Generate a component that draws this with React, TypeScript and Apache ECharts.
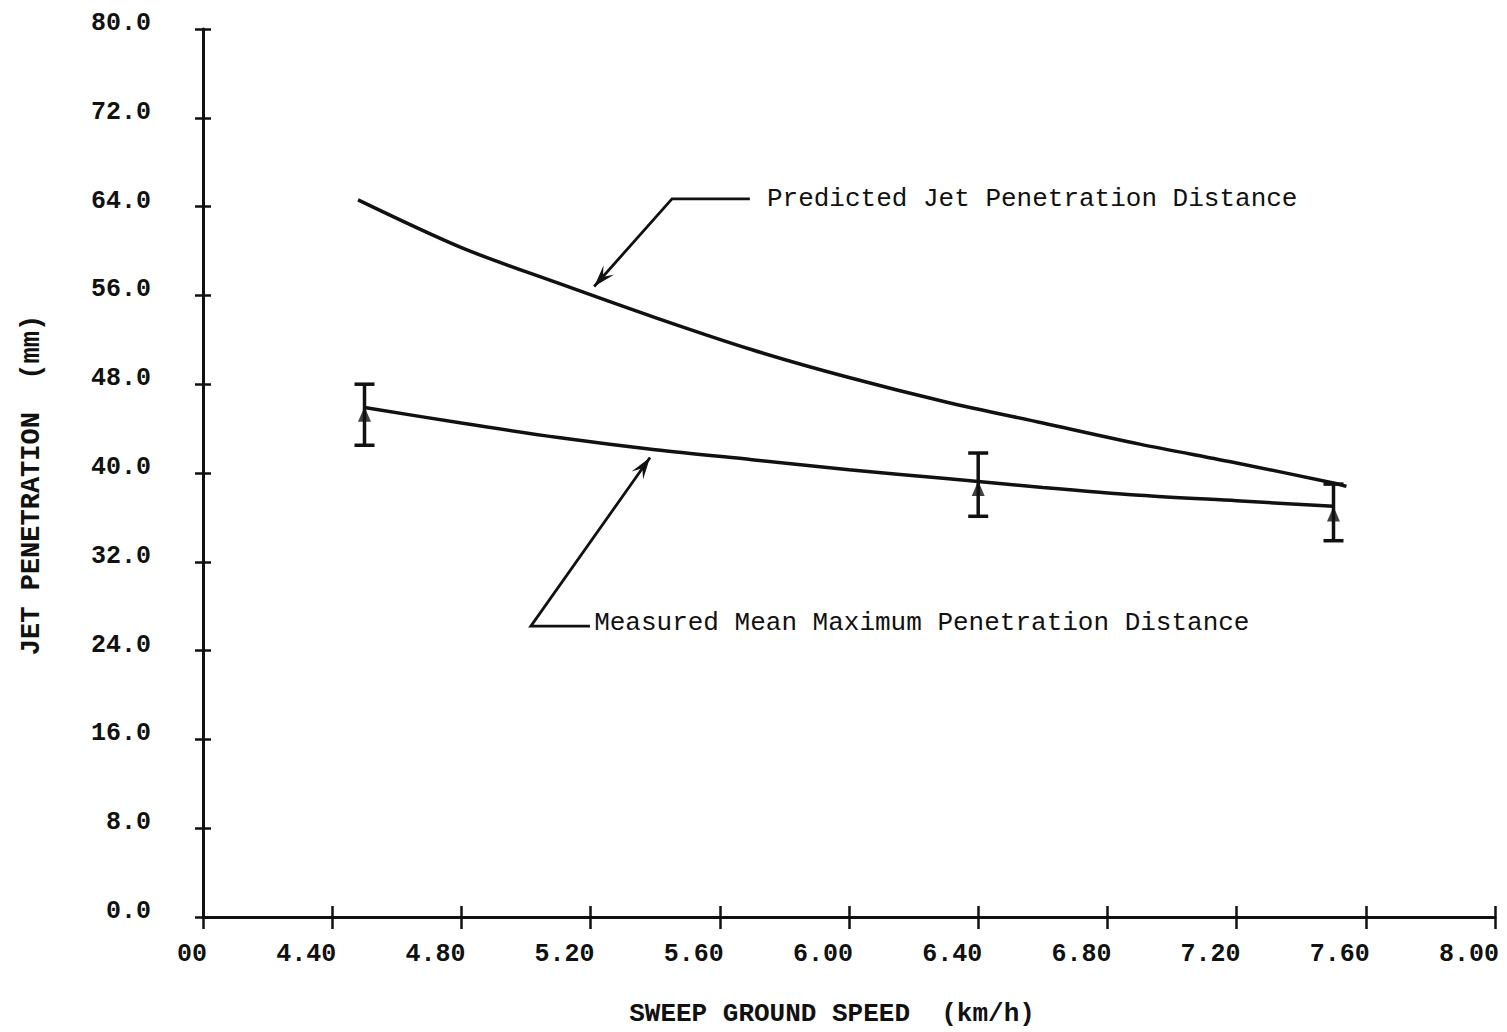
import React, { useEffect, useRef } from "react";
import * as echarts from "echarts";

// ---- data ----
const xTickLabels = ["00", "4.40", "4.80", "5.20", "5.60", "6.00", "6.40", "6.80", "7.20", "7.60", "8.00"];
const yTickLabels = ["0.0", "8.0", "16.0", "24.0", "32.0", "40.0", "48.0", "56.0", "64.0", "72.0", "80.0"];

const speeds = [4.48, 4.8, 5.1, 5.4, 5.7, 6.0, 6.3, 6.6, 6.9, 7.2, 7.5, 7.54];
const predicted = [64.6, 60.3, 57.1, 54.0, 51.1, 48.6, 46.4, 44.5, 42.6, 40.9, 39.1, 38.8];
const fitSpeeds = [4.5, 4.8, 5.1, 5.4, 5.7, 6.0, 6.3, 6.6, 6.9, 7.2, 7.5];
const measuredFit = [45.9, 44.5, 43.2, 42.1, 41.2, 40.3, 39.5, 38.7, 38.0, 37.5, 37.0];

const meanSpeeds = [4.5, 6.4, 7.5];
const meanPen = [45.3, 38.6, 36.3];
const errLow = [42.5, 36.1, 33.9];
const errHigh = [48.0, 41.8, 39.0];

const predictedLabel = "Predicted Jet Penetration Distance";
const measuredLabel = "Measured Mean Maximum Penetration Distance";
// annotation anchors in data coordinates [speed, penetration]
const predictedArrow = [[5.693, 64.7], [5.452, 64.7], [5.211, 56.8]];
const predictedTextAt = [5.746, 64.7];
const measuredArrow = [[5.198, 26.2], [5.015, 26.2], [5.384, 41.4]];
const measuredTextAt = [5.211, 26.5];

const X_MIN = 4.0, X_MAX = 8.0, X_STEP = 0.4;
const Y_MIN = 0, Y_MAX = 80, Y_STEP = 8;

const MONO = "'Liberation Mono', 'DejaVu Sans Mono', monospace";
const INK = "#111";

export default function App() {
  const ref = useRef<HTMLDivElement>(null);

  useEffect(() => {
    if (!ref.current) return;
    const chart = echarts.init(ref.current, null, { renderer: "svg" });

    const xFmt = (v: number) => xTickLabels[Math.round((v - X_MIN) / X_STEP)] ?? "";
    const yFmt = (v: number) => yTickLabels[Math.round((v - Y_MIN) / Y_STEP)] ?? "";

    const baseX = {
      type: "value",
      min: X_MIN,
      max: X_MAX,
      interval: X_STEP,
      position: "bottom",
      splitLine: { show: false },
    };
    const baseY = {
      type: "value",
      min: Y_MIN,
      max: Y_MAX,
      interval: Y_STEP,
      position: "left",
      splitLine: { show: false },
    };

    const option: any = {
      animation: false,
      backgroundColor: "#ffffff",
      grid: { left: 203, right: 12, top: 29, bottom: 108, containLabel: false },
      xAxis: [
        {
          ...baseX,
          name: "SWEEP GROUND SPEED  (km/h)",
          nameLocation: "middle",
          nameGap: 84,
          nameTextStyle: { fontFamily: MONO, fontSize: 26, fontWeight: "bold", color: INK, padding: [0, 34, 0, 0] },
          axisLine: { show: true, lineStyle: { color: INK, width: 3 } },
          axisTick: { show: true, inside: false, length: 12, lineStyle: { color: INK, width: 2.5 } },
          axisLabel: {
            show: true,
            formatter: xFmt,
            align: "right",
            margin: 25,
            fontFamily: MONO,
            fontSize: 25,
            fontWeight: "bold",
            color: INK,
            padding: [0, -4, 0, 0],
          },
        },
        {
          ...baseX,
          axisLine: { show: false },
          axisTick: { show: true, inside: true, length: 11, lineStyle: { color: INK, width: 2.5 } },
          axisLabel: { show: false },
        },
      ],
      yAxis: [
        {
          ...baseY,
          name: "JET PENETRATION  (mm)",
          nameLocation: "middle",
          nameGap: 158,
          nameRotate: 90,
          nameTextStyle: { fontFamily: MONO, fontSize: 27, fontWeight: "bold", color: INK, padding: [0, 24, 0, 0] },
          axisLine: { show: true, lineStyle: { color: INK, width: 3 } },
          axisTick: { show: true, inside: false, length: 8, lineStyle: { color: INK, width: 2.5 } },
          axisLabel: {
            show: true,
            formatter: yFmt,
            margin: 52,
            fontFamily: MONO,
            fontSize: 25,
            fontWeight: "bold",
            color: INK,
            verticalAlign: "bottom",
            lineHeight: 11,
          },
        },
        {
          ...baseY,
          axisLine: { show: false },
          axisTick: { show: true, inside: true, length: 8, lineStyle: { color: INK, width: 2.5 } },
          axisLabel: { show: false },
        },
      ],
      series: [
        {
          name: "Predicted",
          type: "line",
          xAxisIndex: 0,
          yAxisIndex: 0,
          smooth: 0.3,
          symbol: "none",
          data: speeds.map((s, i) => [s, predicted[i]]),
          lineStyle: { color: INK, width: 3.5 },
        },
        {
          name: "Measured fit",
          type: "line",
          xAxisIndex: 0,
          yAxisIndex: 0,
          smooth: 0.3,
          symbol: "none",
          data: fitSpeeds.map((s, i) => [s, measuredFit[i]]),
          lineStyle: { color: INK, width: 3.5 },
        },
        {
          name: "Error bars",
          type: "custom",
          xAxisIndex: 0,
          yAxisIndex: 0,
          data: meanSpeeds.map((s, i) => [s, errLow[i], errHigh[i]]),
          renderItem: (params: any, api: any) => {
            const lo = api.coord([api.value(0), api.value(1)]);
            const hi = api.coord([api.value(0), api.value(2)]);
            const half = 10;
            const st = { stroke: INK, lineWidth: 3.5 };
            return {
              type: "group",
              children: [
                { type: "line", shape: { x1: lo[0], y1: lo[1], x2: hi[0], y2: hi[1] }, style: st },
                { type: "line", shape: { x1: hi[0] - half, y1: hi[1], x2: hi[0] + half, y2: hi[1] }, style: st },
                { type: "line", shape: { x1: lo[0] - half, y1: lo[1], x2: lo[0] + half, y2: lo[1] }, style: st },
              ],
            };
          },
          z: 3,
        },
        {
          name: "Measured mean",
          type: "scatter",
          xAxisIndex: 0,
          yAxisIndex: 0,
          symbol: "triangle",
          symbolSize: [13, 15],
          data: meanSpeeds.map((s, i) => [s, meanPen[i]]),
          itemStyle: { color: INK },
          z: 4,
        },
      ],
    };

    chart.setOption(option);

    const toPx = (c: number[]) =>
      chart.convertToPixel({ xAxisIndex: 0, yAxisIndex: 0 }, c) as number[];

    const arrowHead = (from: number[], to: number[]) => {
      const dx = to[0] - from[0];
      const dy = to[1] - from[1];
      const L = Math.hypot(dx, dy) || 1;
      const ux = dx / L, uy = dy / L;
      const len = 22, w = 7;
      const bx = to[0] - ux * len, by = to[1] - uy * len;
      const nx = -uy, ny = ux;
      return [
        [to[0], to[1]],
        [bx + nx * w, by + ny * w],
        [to[0] - ux * len * 0.6, to[1] - uy * len * 0.6],
        [bx - nx * w, by - ny * w],
      ];
    };

    const buildArrow = (pts: number[][]) => {
      const p = pts.map(toPx);
      return [
        { type: "polyline", shape: { points: p }, style: { stroke: INK, lineWidth: 2.8, fill: "none" }, z: 10 },
        { type: "polygon", shape: { points: arrowHead(p[p.length - 2], p[p.length - 1]) }, style: { fill: INK }, z: 10 },
      ];
    };

    const pt = toPx(predictedTextAt);
    const mt = toPx(measuredTextAt);

    chart.setOption({
      graphic: [
        ...buildArrow(predictedArrow),
        ...buildArrow(measuredArrow),
        {
          type: "text",
          x: pt[0],
          y: pt[1],
          z: 10,
          style: { text: predictedLabel, fontFamily: MONO, fontSize: 26, fill: INK, align: "left", verticalAlign: "middle" },
        },
        {
          type: "text",
          x: mt[0],
          y: mt[1],
          z: 10,
          style: { text: measuredLabel, fontFamily: MONO, fontSize: 26, fill: INK, align: "left", verticalAlign: "middle" },
        },
      ],
    });

    return () => chart.dispose();
  }, []);

  return (
    <div
      ref={ref}
      style={{ position: "fixed", left: 0, top: 0, width: 1507, height: 1032, background: "#fff" }}
    />
  );
}
